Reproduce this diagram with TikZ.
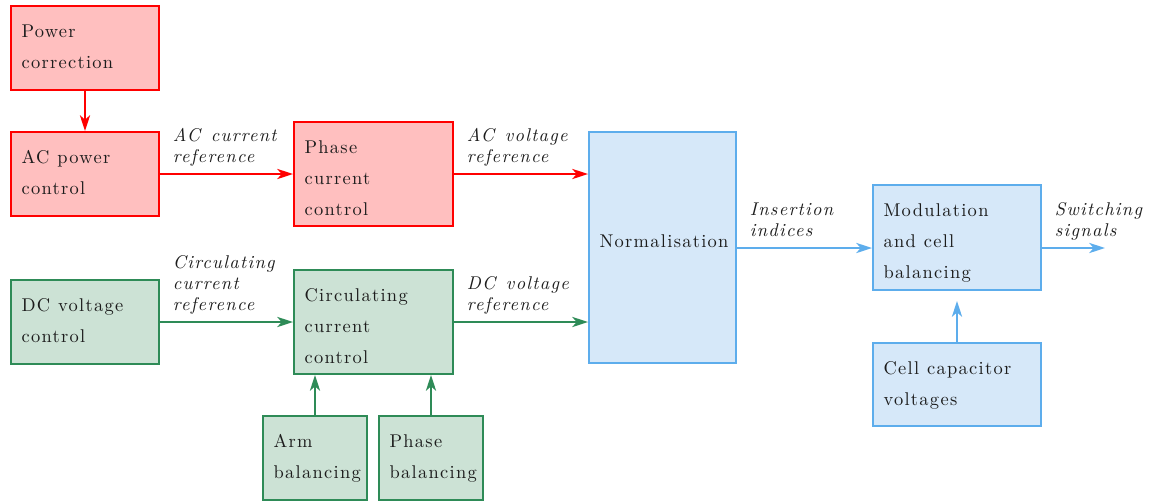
\documentclass[tikz,border=0pt]{standalone}
\usepackage{fontspec}
\newfontfamily\boxfont{lmroman10-regular.otf}[LetterSpace=7]
\newfontfamily\lblfont{lmroman10-italic.otf}[LetterSpace=7,WordSpace=1.35]
\usetikzlibrary{arrows.meta}
\definecolor{redfill}{HTML}{FFBFBF}
\definecolor{reddraw}{HTML}{FF0000}
\definecolor{greenfill}{HTML}{CCE2D5}
\definecolor{greendraw}{HTML}{2E8B57}
\definecolor{bluefill}{HTML}{D6E8F9}
\definecolor{bluedraw}{HTML}{5DADEC}
\definecolor{txt}{HTML}{1C1C1C}
\begin{document}
\begin{tikzpicture}[x=0.569pt,y=-0.569pt,
  blk/.style={draw, line width=1.1pt, rectangle, inner xsep=6pt, inner ysep=0pt,
    align=left, text=txt,
    font=\boxfont\fontsize{10.5}{17.7}\selectfont,
    execute at begin node={\spaceskip=4.5pt\relax}},
  sz/.code 2 args={%
    \pgfmathsetmacro\bw{#1*0.569}%
    \pgfmathsetmacro\bh{#2*0.569}%
    \pgfmathsetmacro\tw{#1*0.569-12}%
    \pgfmathsetmacro\td{#2*0.569-17.9}%
    \edef\tmpset{\noexpand\tikzset{minimum width=\bw pt, minimum height=\bh pt,
      text width=\tw pt, text height=17.9pt, text depth=\td pt}}%
    \tmpset},
  redblk/.style={blk, draw=reddraw, fill=redfill},
  greenblk/.style={blk, draw=greendraw, fill=greenfill},
  blueblk/.style={blk, draw=bluedraw, fill=bluefill},
  lbl/.style={anchor=south west, inner sep=0pt, xshift=6.8pt, yshift=4.1pt,
    align=left, text=txt,
    font=\lblfont\fontsize{10.5}{11.7}\selectfont},
  arr/.style={line width=1.1pt, -{Stealth[length=9pt,width=5.8pt,inset=2.5pt]}},
]
\useasboundingbox (0,0) rectangle (1149,500);

% red group
\node[redblk, sz={148}{84}] (pc) at (85,48) {Power\\correction};
\node[redblk, sz={148}{84}] (acp) at (85,174) {AC power\\control};
\node[redblk, sz={159}{104}] (pcc) at (373.5,174) {Phase\\current\\control};

% green group
\node[greenblk, sz={148}{84}] (dcv) at (85,322) {DC voltage\\control};
\node[greenblk, sz={159}{104}] (ccc) at (373.5,322) {Circulating\\current\\control};
\node[greenblk, sz={104}{84}] (arm) at (315,458) {Arm\\balancing};
\node[greenblk, sz={104}{84}] (phb) at (431,458) {Phase\\balancing};

% blue group
\node[blueblk, sz={147}{231}, text height=65.7pt, text depth=65.7pt] (norm) at (662.5,247.5) {Normalisation};
\node[blueblk, sz={168}{105}] (mod) at (957,237.5) {Modulation\\and cell\\balancing};
\node[blueblk, sz={168}{83}] (cell) at (957,384.5) {Cell capacitor\\voltages};
\coordinate (out) at (1105,248);

% red arrows
\draw[arr, reddraw] (pc) -- (acp);
\draw[arr, reddraw] (acp) -- node[lbl, pos=0] {AC current\\reference} (pcc);
\draw[arr, reddraw] (pcc.east) -- node[lbl, pos=0] {AC voltage\\reference} (pcc.east -| norm.west);

% green arrows
\draw[arr, greendraw] (dcv) -- node[lbl, pos=0] {Circulating\\current\\reference} (dcv -| ccc.west);
\draw[arr, greendraw] (ccc.east) -- node[lbl, pos=0] {DC voltage\\reference} (ccc.east -| norm.west);
\draw[arr, greendraw] (arm.north) -- (arm.north |- ccc.south);
\draw[arr, greendraw] (phb.north) -- (phb.north |- ccc.south);

% blue arrows
\draw[arr, bluedraw] (norm.east |- out) -- node[lbl, pos=0, yshift=2pt] {Insertion\\indices} (out -| mod.west);
\draw[arr, bluedraw] (out -| mod.east) -- node[lbl, pos=0] {Switching\\signals} (out);
\draw[arr, bluedraw, shorten >=5.7pt] (cell.north) -- (cell.north |- mod.south);
\end{tikzpicture}
\end{document}
